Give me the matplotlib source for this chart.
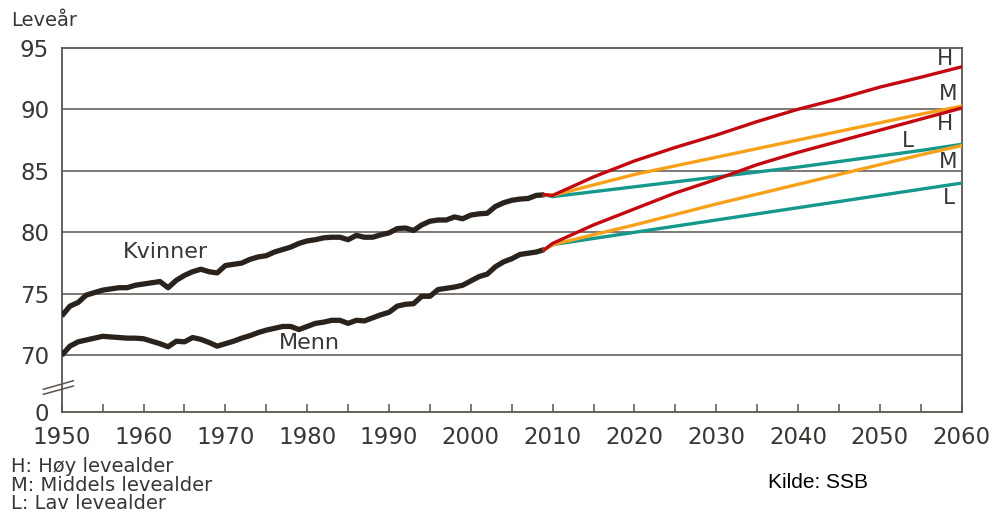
import numpy as np
import matplotlib
matplotlib.use('Agg')
import matplotlib.pyplot as plt

# Historiske tall 1950-2009
years = np.arange(1950, 2010)
kvinner = [73.2, 74.0, 74.3, 74.9, 75.1, 75.3, 75.4, 75.5, 75.5, 75.7,
           75.8, 75.9, 76.0, 75.5, 76.1, 76.5, 76.8, 77.0, 76.8, 76.7,
           77.3, 77.4, 77.5, 77.8, 78.0, 78.1, 78.4, 78.6, 78.8, 79.1,
           79.3, 79.4, 79.55, 79.6, 79.6, 79.4, 79.75, 79.6, 79.6, 79.8,
           79.95, 80.3, 80.35, 80.15, 80.6, 80.9, 81.0, 81.0, 81.25, 81.1,
           81.4, 81.5, 81.55, 82.1, 82.4, 82.6, 82.7, 82.75, 83.0, 83.05]
menn = [70.0, 70.75, 71.1, 71.25, 71.4, 71.55, 71.5, 71.45, 71.4, 71.4,
        71.35, 71.15, 70.95, 70.7, 71.15, 71.1, 71.45, 71.3, 71.05, 70.75,
        70.95, 71.15, 71.4, 71.6, 71.85, 72.05, 72.2, 72.35, 72.35, 72.1,
        72.35, 72.6, 72.7, 72.85, 72.85, 72.6, 72.85, 72.8, 73.05, 73.3,
        73.5, 74.0, 74.15, 74.2, 74.8, 74.8, 75.35, 75.45, 75.55, 75.7,
        76.05, 76.4, 76.6, 77.2, 77.6, 77.85, 78.2, 78.3, 78.4, 78.6]

# Framskrivinger 2010-2060
proj_years = np.arange(2010, 2061, 5)
k_hoy = [83.0, 84.5, 85.8, 86.9, 87.9, 89.0, 90.0, 90.85, 91.8, 92.6, 93.45]
k_mid = [83.0, 83.85, 84.7, 85.4, 86.1, 86.8, 87.5, 88.2, 88.9, 89.6, 90.25]
k_lav = [82.9, 83.3, 83.7, 84.1, 84.5, 84.9, 85.3, 85.75, 86.2, 86.65, 87.15]
m_hoy = [79.1, 80.6, 81.9, 83.2, 84.3, 85.5, 86.5, 87.4, 88.3, 89.2, 90.1]
m_mid = [79.0, 79.8, 80.6, 81.45, 82.3, 83.1, 83.9, 84.7, 85.5, 86.3, 87.05]
m_lav = [79.0, 79.5, 80.0, 80.5, 81.0, 81.5, 82.0, 82.5, 83.0, 83.5, 84.0]

ytick_vals = [65.4, 70, 75, 80, 85, 90, 95]
ytick_labels = ['0', '70', '75', '80', '85', '90', '95']

dark = '#2a231d'
grid_c = '#5b544e'
text_c = '#3a3633'
red = '#c3080f'
orange = '#f7a11a'
teal = '#14998c'

fig = plt.figure(figsize=(9.99, 5.13), dpi=100)
ax = fig.add_axes([0.0618, 0.1969, 0.9009, 0.7101])

for y in [70, 75, 80, 85, 90]:
    ax.axhline(y, color=grid_c, lw=1.1, zorder=1)

ax.plot(years, kvinner, color=dark, lw=3.8, solid_capstyle='butt', zorder=3)
ax.plot(years, menn, color=dark, lw=3.8, solid_capstyle='butt', zorder=3)

# framskrivingene kobles til siste historiske punkt
for serie, start, col in [(k_lav, kvinner[-1], teal), (k_mid, kvinner[-1], orange),
                          (k_hoy, kvinner[-1], red), (m_lav, menn[-1], teal),
                          (m_mid, menn[-1], orange), (m_hoy, menn[-1], red)]:
    ax.plot(np.r_[years[-1], proj_years], np.r_[start, serie], color=col, lw=2.4, zorder=4)

ax.set_xlim(1950, 2060)
ax.set_ylim(65.4, 95)
ax.set_yticks(ytick_vals)
ax.set_yticklabels(ytick_labels)
ax.set_xticks(np.arange(1950, 2061, 5))
ax.set_xticklabels([str(x) if x % 10 == 0 else '' for x in range(1950, 2061, 5)])
ax.tick_params(axis='x', direction='in', length=6, width=1.1, color=grid_c,
               labelsize=16.5, labelcolor=text_c, pad=10)
ax.tick_params(axis='y', length=0, labelsize=16.5, labelcolor=text_c, pad=9)
for s in ax.spines.values():
    s.set_color(grid_c)
    s.set_linewidth(1.3)

# brudd i y-aksen
ax.plot([-0.0204, 0.0129], [0.0623, 0.0858], transform=ax.transAxes,
        color=grid_c, lw=1.1, clip_on=False)
ax.plot([-0.0204, 0.0129], [0.0485, 0.0713], transform=ax.transAxes,
        color=grid_c, lw=1.1, clip_on=False)

ax.text(1957.5, 78.4, 'Kvinner', fontsize=16, color=text_c, va='center')
ax.text(1976.5, 71.0, 'Menn', fontsize=16, color=text_c, va='center')

for lab, xx, yy in [('H', 2059.0, 94.05), ('M', 2059.5, 91.2), ('H', 2059.0, 88.77),
                    ('L', 2054.2, 87.4), ('M', 2059.5, 85.7), ('L', 2059.2, 82.77)]:
    ax.text(xx, yy, lab, fontsize=15.5, color=text_c, ha='right', va='center')

fig.text(0.011, 0.96, 'Leveår', fontsize=14, color=text_c, va='center')
fig.text(0.011, 0.09, 'H: Høy levealder', fontsize=14, color=text_c, va='center')
fig.text(0.011, 0.054, 'M: Middels levealder', fontsize=14, color=text_c, va='center')
fig.text(0.011, 0.019, 'L: Lav levealder', fontsize=14, color=text_c, va='center')
fig.text(0.769, 0.06, 'Kilde: SSB', fontsize=15, color='black', va='center',
         family='Liberation Sans')

fig.savefig('out.png', dpi=100)
